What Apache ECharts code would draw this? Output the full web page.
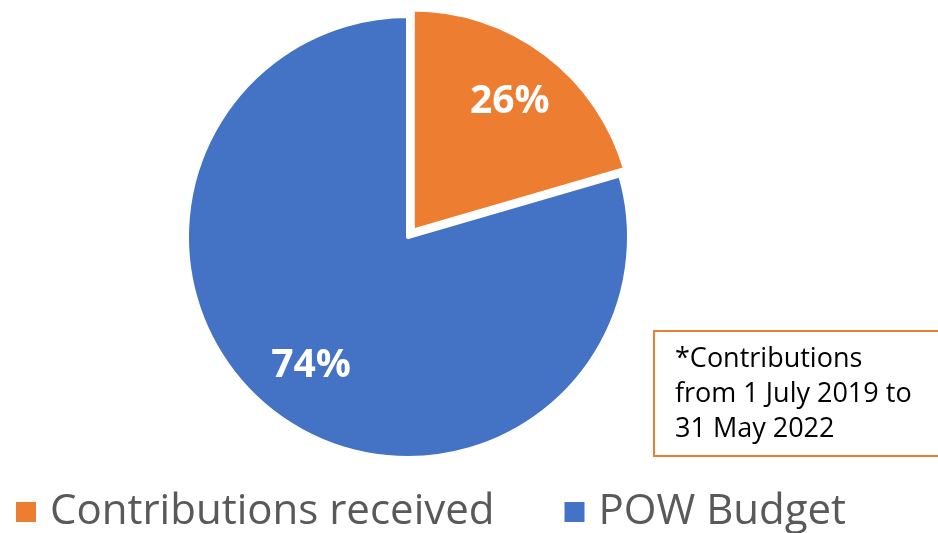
<!DOCTYPE html>
<html>
<head>
<meta charset="utf-8">
<script src="https://cdn.jsdelivr.net/npm/echarts@6/dist/echarts.min.js"></script>
<style>
html,body{margin:0;padding:0;background:#fff;}
#chart{width:938px;height:533px;}
</style>
</head>
<body>
<div id="chart"></div>
<script>
// Data
const categories = ["Contributions received", "POW Budget"];
const sliceShares = [20.5, 79.5];          // angular share as drawn
const sliceLabels = ["26%", "74%"];        // label text as printed
const colors = ["#ED7D31", "#4472C4"];
const noteLines = ["*Contributions", "from 1 July 2019 to", "31 May 2022"];

const pieData = categories.map((name, i) => ({
  name: name,
  value: sliceShares[i],
  selected: i === 0,
  itemStyle: { color: colors[i] }
}));

const labelData = categories.map((name, i) => ({
  name: name,
  value: sliceShares[i],
  selected: i === 0,
  label: { formatter: sliceLabels[i] }
}));

const chart = echarts.init(document.getElementById('chart'), null, { renderer: 'canvas' });
chart.setOption({
  backgroundColor: '#ffffff',
  animation: false,
  legend: {
    data: categories,
    left: 14,
    top: 491,
    padding: 0,
    icon: 'rect',
    itemWidth: 22,
    itemHeight: 22,
    itemGap: 68,
    selectedMode: false,
    textStyle: {
      fontFamily: 'Open Sans',
      fontSize: 42,
      color: '#595959',
      padding: [0, 0, 0, 8]
    }
  },
  series: [
    {
      type: 'pie',
      center: [408, 237],
      radius: [0, 221],
      startAngle: 90,
      clockwise: true,
      selectedMode: 'multiple',
      selectedOffset: 8,
      label: { show: false },
      labelLine: { show: false },
      emphasis: { disabled: true },
      itemStyle: { borderColor: '#ffffff', borderWidth: 4 },
      data: pieData
    },
    {
      type: 'pie',
      silent: true,
      center: [408, 237],
      radius: [96, 221],
      startAngle: 90,
      clockwise: true,
      selectedMode: 'multiple',
      selectedOffset: 8,
      itemStyle: { color: 'rgba(0,0,0,0)' },
      label: {
        show: true,
        position: 'inside',
        color: '#ffffff',
        fontFamily: 'Open Sans',
        fontWeight: 'bold',
        fontSize: 39
      },
      labelLine: { show: false },
      emphasis: { disabled: true },
      data: labelData
    }
  ],
  graphic: [
    {
      type: 'rect',
      shape: { x: 654, y: 331, width: 320, height: 125 },
      style: { fill: '#ffffff', stroke: '#ED7D31', lineWidth: 2 }
    },
    {
      type: 'text',
      x: 675,
      y: 342,
      style: {
        text: noteLines.join('\n'),
        font: '27px "Open Sans"',
        lineHeight: 35,
        fill: '#000000'
      }
    }
  ]
});
</script>
</body>
</html>
